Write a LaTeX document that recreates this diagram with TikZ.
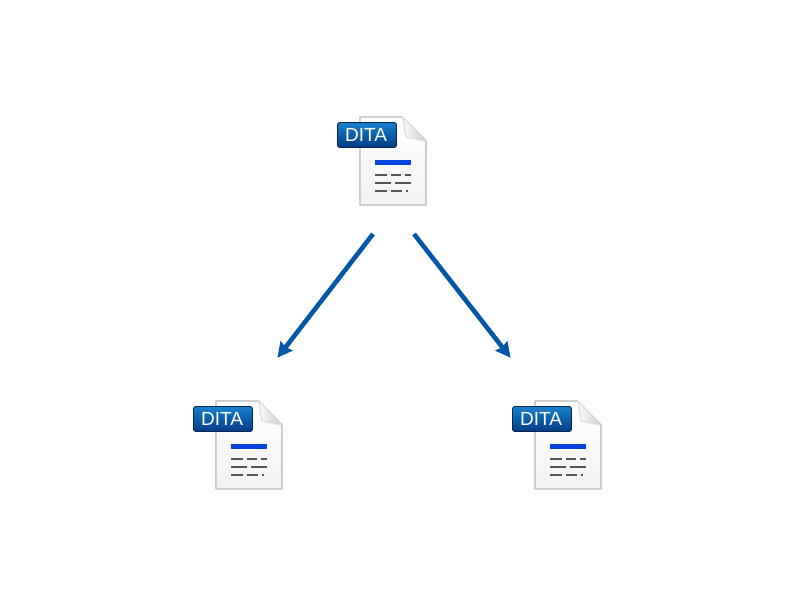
\documentclass[tikz,border=0pt]{standalone}
\usepackage{fontspec}
\setmainfont{Liberation Sans}
\usetikzlibrary{arrows.meta}
\definecolor{arrowblue}{HTML}{0457A8}
\definecolor{docedge}{HTML}{CFCFCF}
\definecolor{foldedge}{HTML}{DDDDDD}
\definecolor{barblue}{HTML}{0445E0}
\definecolor{dashgray}{HTML}{555555}
\definecolor{badgetop}{HTML}{1A80CC}
\definecolor{badgebot}{HTML}{003C85}
\definecolor{badgeedge}{HTML}{02264F}
\tikzset{
  x=1pt,y=-1pt,
  flowarrow/.style={draw=arrowblue,line width=4.6pt,-{Stealth[length=15pt,width=15pt,inset=1.5pt]},shorten >=-1pt},
  docbody/.style={draw=docedge,line width=1.8pt,line join=round,top color=white,bottom color=black!5},
  docbar/.style={fill=barblue,draw=none},
  docdash/.style={draw=dashgray,line width=1.8pt},
  badge/.style={draw=badgeedge,line width=0.9pt,rounded corners=2.5pt,top color=badgetop,bottom color=badgebot,minimum width=59pt,minimum height=25pt,inner sep=0pt},
  badgetext/.style={text=white,inner sep=0pt,font=\fontsize{19}{20}\selectfont},
  pics/ditadoc/.style={code={
    \shade[docbody] (0,0) -- (42,0) -- (66,24) -- (66,88) -- (0,88) -- cycle;
    \shade[left color=white,right color=black!20] (42,0) -- (66,24) -- (46,20) -- cycle;
    \draw[draw=foldedge,line width=1.2pt,line join=round] (43,1) -- (46,20) -- (65,24);
    \fill[docbar] (15,43) rectangle (51,48);
    \draw[docdash] (15,58) -- (27,58) (31,58) -- (41,58) (45,58) -- (51,58);
    \draw[docdash] (15,66) -- (31,66) (35,66) -- (51,66);
    \draw[docdash] (15,74) -- (27,74) (31,74) -- (42,74) (46,74) -- (48,74);
    \node[badge] (-box) at (7,18) {};
    \node[badgetext] (-label) at (6,18) {DITA};
  }}
}
\begin{document}
\begin{tikzpicture}
  \useasboundingbox (0,0) rectangle (800,600);
  \pic (top) at (360,117) {ditadoc};
  \pic (left) at (216,401) {ditadoc};
  \pic (right) at (535,401) {ditadoc};
  \coordinate (topOutL) at (373,234);
  \coordinate (topOutR) at (414,234);
  \coordinate (leftIn) at (278,357);
  \coordinate (rightIn) at (510,357);
  \draw[flowarrow] (topOutL) -- (leftIn);
  \draw[flowarrow] (topOutR) -- (rightIn);
\end{tikzpicture}
\end{document}
